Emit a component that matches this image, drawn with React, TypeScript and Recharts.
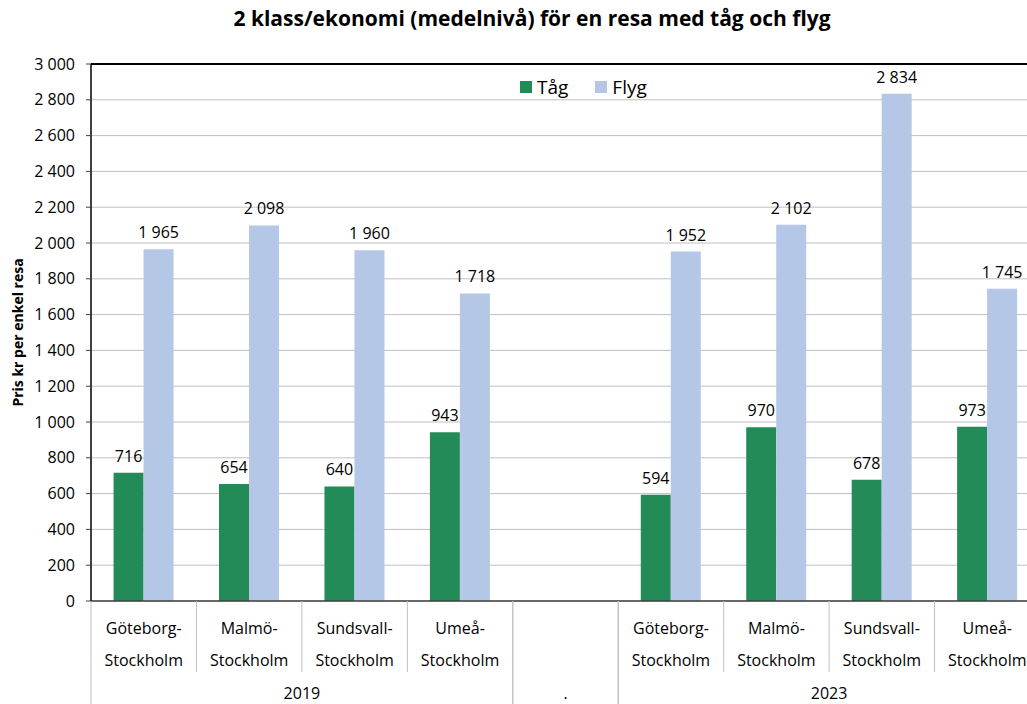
import React from 'react';
import { BarChart, Bar, XAxis, YAxis, CartesianGrid, LabelList, ReferenceLine } from 'recharts';

const routesLine1 = ['Göteborg-', 'Malmö-', 'Sundsvall-', 'Umeå-', '', 'Göteborg-', 'Malmö-', 'Sundsvall-', 'Umeå-'];
const routesLine2 = ['Stockholm', 'Stockholm', 'Stockholm', 'Stockholm', '', 'Stockholm', 'Stockholm', 'Stockholm', 'Stockholm'];
const tagValues: (number | null)[] = [716, 654, 640, 943, null, 594, 970, 678, 973];
const flygValues: (number | null)[] = [1965, 2098, 1960, 1718, null, 1952, 2102, 2834, 1745];
const yearGroups = [
  { label: '2019', start: 0, end: 3 },
  { label: '.', start: 4, end: 4 },
  { label: '2023', start: 5, end: 8 },
];
const yTicks = [0, 200, 400, 600, 800, 1000, 1200, 1400, 1600, 1800, 2000, 2200, 2400, 2600, 2800, 3000];

const data = routesLine1.map((r, i) => ({
  key: `c${i}`,
  line1: r,
  line2: routesLine2[i],
  tag: tagValues[i],
  flyg: flygValues[i],
}));

const GREEN = '#238b57';
const BLUE = '#b4c7e7';
const FONT = '"Open Sans", sans-serif';

const fmt = (v: any) => {
  if (v === null || v === undefined) return '';
  return String(Math.round(Number(v))).replace(/\B(?=(\d{3})+(?!\d))/g, '\u00a0');
};

const CatTick = (props: any) => {
  const { x, y, payload, index } = props;
  const half = payload && payload.offset ? payload.offset : 52.7;
  const i = index as number;
  const d = data[i];
  const els: React.ReactNode[] = [];
  els.push(
    <text key="l1" x={x} y={y + 33} textAnchor="middle" fontFamily={FONT} fontSize={16} fill="#000">{d.line1}</text>
  );
  els.push(
    <text key="l2" x={x} y={y + 65} textAnchor="middle" fontFamily={FONT} fontSize={16} fill="#000">{d.line2}</text>
  );
  const g = yearGroups.find((gr) => gr.start === i);
  const isGroupEnd = yearGroups.some((gr) => gr.end === i);
  if (g) {
    const cx = x - half + (g.end - g.start + 1) * half;
    els.push(
      <text key="yr" x={cx} y={y + 98} textAnchor="middle" fontFamily={FONT} fontSize={16} fill="#000">{g.label}</text>
    );
    els.push(<line key="sl" x1={x - half} x2={x - half} y1={y} y2={y + 103} stroke="#bfbfbf" strokeWidth={1} />);
  }
  els.push(
    <line key="sr" x1={x + half} x2={x + half} y1={y} y2={y + (isGroupEnd ? 103 : 71)} stroke="#bfbfbf" strokeWidth={1} />
  );
  return <g>{els}</g>;
};

export default function App() {
  return (
    <div style={{ position: 'absolute', left: 0, top: 0, width: 1027, height: 704, overflow: 'hidden', background: '#fff' }}>
      <div style={{ position: 'absolute', left: 0, top: 0, width: 1064, height: 704 }}>
        <div style={{ position: 'absolute', left: 0, top: 4, width: 1064, textAlign: 'center', fontFamily: FONT, fontWeight: 700, fontSize: 21, color: '#000' }}>
          2 klass/ekonomi (medelnivå) för en resa med tåg och flyg
        </div>
        <BarChart
          width={1064}
          height={704}
          data={data}
          margin={{ top: 64, right: 24, bottom: 0, left: 0 }}
          barCategoryGap="21.4%"
          barGap={0}
        >
          <CartesianGrid vertical={false} stroke="#bfbfbf" />
          <XAxis
            dataKey="key"
            interval={0}
            tickLine={false}
            tickSize={0}
            tickMargin={0}
            height={103}
            axisLine={{ stroke: '#404040', strokeWidth: 1.5 }}
            tick={<CatTick />}
          />
          <YAxis
            width={91}
            domain={[0, 3000]}
            ticks={yTicks}
            interval={0}
            tickFormatter={fmt}
            tickSize={5}
            tickMargin={11}
            axisLine={{ stroke: '#000', strokeWidth: 1.5 }}
            tickLine={{ stroke: '#404040' }}
            tick={{ fontFamily: FONT, fontSize: 16, fill: '#000' }}
            label={{
              content: (p: any) => {
                const vb = p.viewBox || { x: 0, y: 64, height: 537 };
                const cy = vb.y + vb.height / 2;
                return (
                  <text x={17} y={cy} transform={`rotate(-90, 17, ${cy})`} textAnchor="middle" dominantBaseline="central" fontFamily={FONT} fontWeight={700} fontSize={14} fill="#000">
                    Pris kr per enkel resa
                  </text>
                );
              },
            }}
          />
          <ReferenceLine y={3000} stroke="#000" strokeWidth={2} />
          <Bar dataKey="tag" name="Tåg" fill={GREEN} isAnimationActive={false}>
            <LabelList dataKey="tag" position="top" offset={11} formatter={fmt} style={{ fontFamily: FONT, fontSize: 16, fill: '#000' }} />
          </Bar>
          <Bar dataKey="flyg" name="Flyg" fill={BLUE} isAnimationActive={false}>
            <LabelList dataKey="flyg" position="top" offset={11} formatter={fmt} style={{ fontFamily: FONT, fontSize: 16, fill: '#000' }} />
          </Bar>
        </BarChart>
        <div style={{ position: 'absolute', left: 520, top: 74, display: 'flex', alignItems: 'center', fontFamily: FONT, fontSize: 19, color: '#000', lineHeight: '26px' }}>
          <span style={{ display: 'inline-block', width: 12, height: 12, background: GREEN, marginRight: 5 }} />
          <span style={{ marginRight: 27 }}>Tåg</span>
          <span style={{ display: 'inline-block', width: 12, height: 12, background: BLUE, marginRight: 5 }} />
          <span>Flyg</span>
        </div>
      </div>
    </div>
  );
}
